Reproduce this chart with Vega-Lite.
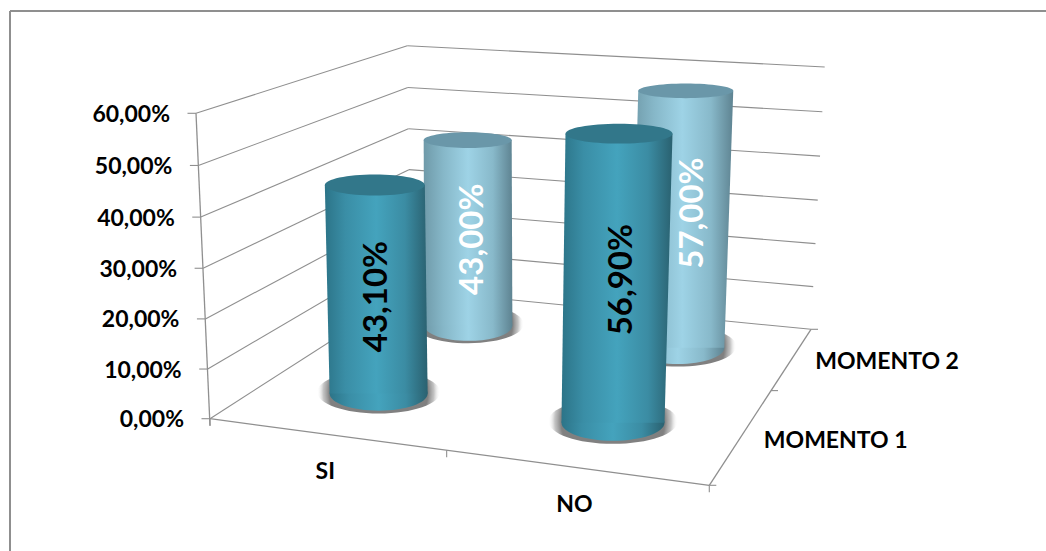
{
  "$schema": "https://vega.github.io/schema/vega-lite/v6.json",
  "width": 1036.5,
  "height": 540.5,
  "padding": {"left": 9.5, "top": 10.5, "right": 0, "bottom": 0},
  "autosize": "none",
  "background": "white",
  "config": {
    "view": {"stroke": null},
    "text": {"font": "Lato", "fontWeight": "bold"},
    "axis": {"domain": false, "labels": false, "ticks": false, "grid": false, "title": null}
  },
  "resolve": {"axis": {"x": "independent", "y": "independent"}},
  "params": [
    {"name": "sueloX", "value": [[210, 709.3], [410.5, 811]]},
    {"name": "sueloY", "value": [[418.7, 485.3], [290, 329.3]]},
    {"name": "techoX", "value": [[196, 721.5], [407.3, 824.7]]},
    {"name": "techoY", "value": [[113.3, 152], [45.7, 67]]}
  ],
  "data": {
    "values": [
      {"tipo": "cilindro", "respuesta": "SI", "momento": "MOMENTO 2", "valor": 43.0},
      {"tipo": "cilindro", "respuesta": "NO", "momento": "MOMENTO 2", "valor": 57.0},
      {"tipo": "cilindro", "respuesta": "SI", "momento": "MOMENTO 1", "valor": 43.1},
      {"tipo": "cilindro", "respuesta": "NO", "momento": "MOMENTO 1", "valor": 56.9},
      {"tipo": "rejilla", "valor": 0},
      {"tipo": "rejilla", "valor": 10},
      {"tipo": "rejilla", "valor": 20},
      {"tipo": "rejilla", "valor": 30},
      {"tipo": "rejilla", "valor": 40},
      {"tipo": "rejilla", "valor": 50},
      {"tipo": "rejilla", "valor": 60},
      {"tipo": "categoria", "respuesta": "SI"},
      {"tipo": "categoria", "respuesta": "NO"},
      {"tipo": "serie", "momento": "MOMENTO 1"},
      {"tipo": "serie", "momento": "MOMENTO 2"}
    ]
  },
  "transform": [
    {"calculate": "datum.respuesta === 'SI' ? 0.231 : datum.respuesta === 'NO' ? 0.73 : 0", "as": "a"},
    {"calculate": "datum.momento === 'MOMENTO 1' ? 0.30 : datum.momento === 'MOMENTO 2' ? 0.805 : 0", "as": "d"},
    {"calculate": "(datum.valor || 0) / 60", "as": "f"},
    {"calculate": "datum.f / (1 + 0.03 * (1 - datum.f))", "as": "t"},
    {"calculate": "lerp([lerp(sueloX[0], datum.a), lerp(sueloX[1], datum.a)], datum.d)", "as": "bx"},
    {"calculate": "lerp([lerp(sueloY[0], datum.a), lerp(sueloY[1], datum.a)], datum.d)", "as": "by"},
    {"calculate": "lerp([lerp(techoX[0], datum.a), lerp(techoX[1], datum.a)], datum.d)", "as": "hx"},
    {"calculate": "lerp([lerp(techoY[0], datum.a), lerp(techoY[1], datum.a)], datum.d)", "as": "hy"},
    {"calculate": "lerp([datum.bx, datum.hx], datum.t)", "as": "tx"},
    {"calculate": "lerp([datum.by, datum.hy], datum.t)", "as": "ty"},
    {"calculate": "datum.by - 1.5", "as": "sy"},
    {"calculate": "datum.momento === 'MOMENTO 1' ? 1 : 0", "as": "cerca"},
    {"calculate": "datum.respuesta === 'NO' ? 1 : 0", "as": "dcha"},
    {"calculate": "44 + 5 * datum.cerca + 2.5 * datum.dcha", "as": "rBase"},
    {"calculate": "44 + 6 * datum.cerca + 3.5 * datum.dcha", "as": "rTapa"},
    {"calculate": "'M-1,0A1,0.35 0 1 0 1,0A1,0.35 0 1 0 -1,0Z'", "as": "formaBase"},
    {"calculate": "'M-1,0A1,' + (0.18 + 0.03 * datum.cerca - 0.025 * datum.dcha) + ' 0 1 0 1,0A1,' + (0.18 + 0.03 * datum.cerca - 0.025 * datum.dcha) + ' 0 1 0 -1,0Z'", "as": "formaTapa"},
    {"calculate": "4 * datum.rBase * datum.rBase", "as": "areaBase"},
    {"calculate": "4 * datum.rTapa * datum.rTapa", "as": "areaTapa"},
    {"calculate": "6.3 * datum.rBase * datum.rBase", "as": "areaSombra"},
    {"calculate": "replace(format(datum.valor, '.2f'), '.', ',') + '%'", "as": "etiqueta"},
    {"calculate": "datum.respuesta === 'SI' ? 0.465 : (datum.cerca ? 0.495 : 0.524)", "as": "medio"},
    {"calculate": "lerp([datum.bx, datum.tx], datum.medio) + (datum.cerca ? 0 : 5) + 6 * datum.dcha", "as": "ex"},
    {"calculate": "lerp([datum.by, datum.ty], datum.medio)", "as": "ey"}
  ],
  "encoding": {
    "x": {"field": "tx", "type": "quantitative", "scale": {"domain": [9.5, 1046], "nice": false, "zero": false}},
    "y": {"field": "ty", "type": "quantitative", "scale": {"domain": [551, 10.5], "nice": false, "zero": false}}
  },
  "layer": [
    {
      "name": "marco",
      "transform": [{"filter": "datum.tipo === 'serie'"}],
      "mark": {"type": "rule", "opacity": 0},
      "encoding": {
        "x": {"field": "tx", "type": "quantitative", "scale": {"domain": [9.5, 1046], "nice": false, "zero": false}, "axis": {"orient": "top", "domain": true, "domainColor": "#8f8f8f", "domainWidth": 2}},
        "y": {"field": "ty", "type": "quantitative", "scale": {"domain": [551, 10.5], "nice": false, "zero": false}, "axis": {"orient": "left", "domain": true, "domainColor": "#8f8f8f", "domainWidth": 2}}
      }
    },
    {
      "name": "pared izquierda",
      "transform": [
        {"filter": "datum.tipo === 'rejilla'"},
        {"calculate": "lerp([sueloX[0][0], techoX[0][0]], datum.t)", "as": "x1"},
        {"calculate": "lerp([sueloY[0][0], techoY[0][0]], datum.t)", "as": "y1"},
        {"calculate": "lerp([sueloX[1][0], techoX[1][0]], datum.t)", "as": "x2"},
        {"calculate": "lerp([sueloY[1][0], techoY[1][0]], datum.t)", "as": "y2"}
      ],
      "mark": {"type": "rule", "color": "#8f8f8f", "strokeWidth": 1.1},
      "encoding": {
        "x": {"field": "x1", "type": "quantitative"},
        "y": {"field": "y1", "type": "quantitative"},
        "x2": {"field": "x2"},
        "y2": {"field": "y2"}
      }
    },
    {
      "name": "pared del fondo",
      "transform": [
        {"filter": "datum.tipo === 'rejilla'"},
        {"calculate": "lerp([sueloX[1][0], techoX[1][0]], datum.t)", "as": "x1"},
        {"calculate": "lerp([sueloY[1][0], techoY[1][0]], datum.t)", "as": "y1"},
        {"calculate": "lerp([sueloX[1][1], techoX[1][1]], datum.t)", "as": "x2"},
        {"calculate": "lerp([sueloY[1][1], techoY[1][1]], datum.t)", "as": "y2"}
      ],
      "mark": {"type": "rule", "color": "#8f8f8f", "strokeWidth": 1.1},
      "encoding": {
        "x": {"field": "x1", "type": "quantitative"},
        "y": {"field": "y1", "type": "quantitative"},
        "x2": {"field": "x2"},
        "y2": {"field": "y2"}
      }
    },
    {
      "name": "marcas del eje de valores",
      "transform": [
        {"filter": "datum.tipo === 'rejilla'"},
        {"calculate": "lerp([sueloX[0][0], techoX[0][0]], datum.t)", "as": "x1"},
        {"calculate": "lerp([sueloY[0][0], techoY[0][0]], datum.t)", "as": "y1"},
        {"calculate": "datum.x1 - 8.5", "as": "x2"}
      ],
      "mark": {"type": "rule", "color": "#8f8f8f", "strokeWidth": 1.1},
      "encoding": {
        "x": {"field": "x1", "type": "quantitative"},
        "y": {"field": "y1", "type": "quantitative"},
        "x2": {"field": "x2"}
      }
    },
    {
      "name": "eje de valores",
      "transform": [
        {"filter": "datum.tipo === 'rejilla' && datum.valor === 60"},
        {"calculate": "techoX[0][0]", "as": "x1"},
        {"calculate": "techoY[0][0]", "as": "y1"},
        {"calculate": "sueloX[0][0]", "as": "x2"},
        {"calculate": "sueloY[0][0] + 7", "as": "y2"}
      ],
      "mark": {"type": "rule", "color": "#8f8f8f", "strokeWidth": 1.3},
      "encoding": {
        "x": {"field": "x1", "type": "quantitative"},
        "y": {"field": "y1", "type": "quantitative"},
        "x2": {"field": "x2"},
        "y2": {"field": "y2"}
      }
    },
    {
      "name": "borde frontal del suelo",
      "transform": [
        {"filter": "datum.tipo === 'rejilla' && datum.valor === 0"},
        {"calculate": "sueloX[0][0]", "as": "x1"},
        {"calculate": "sueloY[0][0]", "as": "y1"},
        {"calculate": "sueloX[0][1]", "as": "x2"},
        {"calculate": "sueloY[0][1]", "as": "y2"}
      ],
      "mark": {"type": "rule", "color": "#8f8f8f", "strokeWidth": 1.3},
      "encoding": {
        "x": {"field": "x1", "type": "quantitative"},
        "y": {"field": "y1", "type": "quantitative"},
        "x2": {"field": "x2"},
        "y2": {"field": "y2"}
      }
    },
    {
      "name": "borde lateral del suelo",
      "transform": [
        {"filter": "datum.tipo === 'rejilla' && datum.valor === 0"},
        {"calculate": "sueloX[0][1]", "as": "x1"},
        {"calculate": "sueloY[0][1]", "as": "y1"},
        {"calculate": "sueloX[1][1]", "as": "x2"},
        {"calculate": "sueloY[1][1]", "as": "y2"}
      ],
      "mark": {"type": "rule", "color": "#8f8f8f", "strokeWidth": 1.3},
      "encoding": {
        "x": {"field": "x1", "type": "quantitative"},
        "y": {"field": "y1", "type": "quantitative"},
        "x2": {"field": "x2"},
        "y2": {"field": "y2"}
      }
    },
    {
      "name": "marcas entre categorias",
      "transform": [
        {"filter": "datum.tipo === 'rejilla' && datum.valor === 0"},
        {"fold": ["i0", "i1", "i2"], "as": ["marca", "sin_uso"]},
        {"calculate": "datum.marca === 'i0' ? 0.474 : datum.marca === 'i1' ? 1 : 0", "as": "p"},
        {"calculate": "lerp(sueloX[0], datum.p)", "as": "x1"},
        {"calculate": "lerp(sueloY[0], datum.p)", "as": "y1"},
        {"calculate": "datum.y1 + 7", "as": "y2"}
      ],
      "mark": {"type": "rule", "color": "#8f8f8f", "strokeWidth": 1.1},
      "encoding": {
        "x": {"field": "x1", "type": "quantitative"},
        "y": {"field": "y1", "type": "quantitative"},
        "y2": {"field": "y2"}
      }
    },
    {
      "name": "marcas entre series",
      "transform": [
        {"filter": "datum.tipo === 'rejilla' && datum.valor === 0"},
        {"fold": ["i0", "i1", "i2"], "as": ["marca", "sin_uso"]},
        {"calculate": "datum.marca === 'i0' ? 0.607 : datum.marca === 'i1' ? 1 : 0", "as": "p"},
        {"calculate": "lerp([sueloX[0][1], sueloX[1][1]], datum.p)", "as": "x1"},
        {"calculate": "lerp([sueloY[0][1], sueloY[1][1]], datum.p)", "as": "y1"},
        {"calculate": "datum.x1 + 7", "as": "x2"}
      ],
      "mark": {"type": "rule", "color": "#8f8f8f", "strokeWidth": 1.1},
      "encoding": {
        "x": {"field": "x1", "type": "quantitative"},
        "y": {"field": "y1", "type": "quantitative"},
        "x2": {"field": "x2"}
      }
    },
    {
      "name": "sombras traseras",
      "transform": [{"filter": "datum.tipo === 'cilindro' && datum.momento === 'MOMENTO 2'"}],
      "mark": {
        "type": "point", "filled": true, "opacity": 1, "strokeWidth": 0,
        "fill": {"gradient": "radial", "x1": 0.5, "y1": 0.5, "r1": 0, "x2": 0.5, "y2": 0.5, "r2": 0.5,
          "stops": [{"offset": 0, "color": "#808080"}, {"offset": 0.8, "color": "#808080"}, {"offset": 0.9, "color": "rgba(170,170,170,0.7)"}, {"offset": 1, "color": "rgba(255,255,255,0)"}]}
      },
      "encoding": {
        "x": {"field": "bx", "type": "quantitative"},
        "y": {"field": "sy", "type": "quantitative"},
        "size": {"field": "areaSombra", "type": "quantitative", "scale": null},
        "shape": {"field": "formaBase", "type": "nominal", "scale": null}
      }
    },
    {
      "name": "base serie 2",
      "transform": [{"filter": "datum.tipo === 'cilindro' && datum.momento === 'MOMENTO 2'"}],
      "mark": {
        "type": "point", "filled": true, "opacity": 1, "strokeWidth": 0,
        "fill": {"gradient": "linear", "x1": 0, "y1": 0, "x2": 1, "y2": 0,
          "stops": [{"offset": 0, "color": "#6f9aa9"}, {"offset": 0.22, "color": "#86b7c8"}, {"offset": 0.5, "color": "#9ed3e6"}, {"offset": 0.78, "color": "#88b9ca"}, {"offset": 1, "color": "#5e8391"}]}
      },
      "encoding": {
        "x": {"field": "bx", "type": "quantitative"},
        "y": {"field": "by", "type": "quantitative"},
        "size": {"field": "areaBase", "type": "quantitative", "scale": null},
        "shape": {"field": "formaBase", "type": "nominal", "scale": null}
      }
    },
    {
      "name": "fuste serie 2",
      "transform": [
        {"filter": "datum.tipo === 'cilindro' && datum.momento === 'MOMENTO 2'"},
        {"fold": ["by", "ty"], "as": ["extremo", "yf"]},
        {"calculate": "datum.extremo === 'by' ? datum.bx - datum.rBase : datum.tx - datum.rTapa", "as": "izq"},
        {"calculate": "datum.extremo === 'by' ? datum.bx + datum.rBase : datum.tx + datum.rTapa", "as": "der"}
      ],
      "mark": {
        "type": "area", "orient": "horizontal",
        "fill": {"gradient": "linear", "x1": 0, "y1": 0, "x2": 1, "y2": 0,
          "stops": [{"offset": 0, "color": "#6f9aa9"}, {"offset": 0.22, "color": "#86b7c8"}, {"offset": 0.5, "color": "#9ed3e6"}, {"offset": 0.78, "color": "#88b9ca"}, {"offset": 1, "color": "#5e8391"}]}
      },
      "encoding": {
        "y": {"field": "yf", "type": "quantitative"},
        "x": {"field": "izq", "type": "quantitative"},
        "x2": {"field": "der"},
        "detail": {"field": "respuesta", "type": "nominal"}
      }
    },
    {
      "name": "tapa serie 2",
      "transform": [{"filter": "datum.tipo === 'cilindro' && datum.momento === 'MOMENTO 2'"}],
      "mark": {"type": "point", "filled": true, "opacity": 1, "strokeWidth": 0, "fill": "#6a97a9"},
      "encoding": {
        "size": {"field": "areaTapa", "type": "quantitative", "scale": null},
        "shape": {"field": "formaTapa", "type": "nominal", "scale": null}
      }
    },
    {
      "name": "sombras delanteras",
      "transform": [{"filter": "datum.tipo === 'cilindro' && datum.momento === 'MOMENTO 1'"}],
      "mark": {
        "type": "point", "filled": true, "opacity": 1, "strokeWidth": 0,
        "fill": {"gradient": "radial", "x1": 0.5, "y1": 0.5, "r1": 0, "x2": 0.5, "y2": 0.5, "r2": 0.5,
          "stops": [{"offset": 0, "color": "#808080"}, {"offset": 0.8, "color": "#808080"}, {"offset": 0.9, "color": "rgba(170,170,170,0.7)"}, {"offset": 1, "color": "rgba(255,255,255,0)"}]}
      },
      "encoding": {
        "x": {"field": "bx", "type": "quantitative"},
        "y": {"field": "sy", "type": "quantitative"},
        "size": {"field": "areaSombra", "type": "quantitative", "scale": null},
        "shape": {"field": "formaBase", "type": "nominal", "scale": null}
      }
    },
    {
      "name": "base serie 1",
      "transform": [{"filter": "datum.tipo === 'cilindro' && datum.momento === 'MOMENTO 1'"}],
      "mark": {
        "type": "point", "filled": true, "opacity": 1, "strokeWidth": 0,
        "fill": {"gradient": "linear", "x1": 0, "y1": 0, "x2": 1, "y2": 0,
          "stops": [{"offset": 0, "color": "#2c7488"}, {"offset": 0.2, "color": "#3a8ea6"}, {"offset": 0.5, "color": "#44a3bd"}, {"offset": 0.78, "color": "#3b8ca3"}, {"offset": 1, "color": "#2a6170"}]}
      },
      "encoding": {
        "x": {"field": "bx", "type": "quantitative"},
        "y": {"field": "by", "type": "quantitative"},
        "size": {"field": "areaBase", "type": "quantitative", "scale": null},
        "shape": {"field": "formaBase", "type": "nominal", "scale": null}
      }
    },
    {
      "name": "fuste serie 1",
      "transform": [
        {"filter": "datum.tipo === 'cilindro' && datum.momento === 'MOMENTO 1'"},
        {"fold": ["by", "ty"], "as": ["extremo", "yf"]},
        {"calculate": "datum.extremo === 'by' ? datum.bx - datum.rBase : datum.tx - datum.rTapa", "as": "izq"},
        {"calculate": "datum.extremo === 'by' ? datum.bx + datum.rBase : datum.tx + datum.rTapa", "as": "der"}
      ],
      "mark": {
        "type": "area", "orient": "horizontal",
        "fill": {"gradient": "linear", "x1": 0, "y1": 0, "x2": 1, "y2": 0,
          "stops": [{"offset": 0, "color": "#2c7488"}, {"offset": 0.2, "color": "#3a8ea6"}, {"offset": 0.5, "color": "#44a3bd"}, {"offset": 0.78, "color": "#3b8ca3"}, {"offset": 1, "color": "#2a6170"}]}
      },
      "encoding": {
        "y": {"field": "yf", "type": "quantitative"},
        "x": {"field": "izq", "type": "quantitative"},
        "x2": {"field": "der"},
        "detail": {"field": "respuesta", "type": "nominal"}
      }
    },
    {
      "name": "tapa serie 1",
      "transform": [{"filter": "datum.tipo === 'cilindro' && datum.momento === 'MOMENTO 1'"}],
      "mark": {"type": "point", "filled": true, "opacity": 1, "strokeWidth": 0, "fill": "#32778a"},
      "encoding": {
        "size": {"field": "areaTapa", "type": "quantitative", "scale": null},
        "shape": {"field": "formaTapa", "type": "nominal", "scale": null}
      }
    },
    {
      "name": "etiquetas de datos",
      "transform": [{"filter": "datum.tipo === 'cilindro'"}],
      "mark": {"type": "text", "angle": 270, "fontSize": 33, "align": "center", "baseline": "middle"},
      "encoding": {
        "x": {"field": "ex", "type": "quantitative"},
        "y": {"field": "ey", "type": "quantitative"},
        "text": {"field": "etiqueta", "type": "nominal"},
        "color": {"field": "momento", "type": "nominal", "scale": {"domain": ["MOMENTO 1", "MOMENTO 2"], "range": ["#000000", "#ffffff"]}, "legend": null}
      }
    },
    {
      "name": "rotulos del eje de valores",
      "transform": [
        {"filter": "datum.tipo === 'rejilla'"},
        {"calculate": "replace(format(datum.valor, '.2f'), '.', ',') + '%'", "as": "rotulo"},
        {"calculate": "lerp([sueloX[0][0], techoX[0][0]], datum.t) - 26", "as": "x1"},
        {"calculate": "lerp([sueloY[0][0], techoY[0][0]], datum.t) + 1.5", "as": "y1"}
      ],
      "mark": {"type": "text", "fontSize": 23, "align": "right", "baseline": "middle", "color": "#000000"},
      "encoding": {
        "x": {"field": "x1", "type": "quantitative"},
        "y": {"field": "y1", "type": "quantitative"},
        "text": {"field": "rotulo", "type": "nominal"}
      }
    },
    {
      "name": "rotulos de categoria",
      "transform": [
        {"filter": "datum.tipo === 'categoria'"},
        {"calculate": "datum.by + 37.5", "as": "y1"}
      ],
      "mark": {"type": "text", "fontSize": 23, "align": "center", "baseline": "middle", "color": "#000000"},
      "encoding": {
        "x": {"field": "bx", "type": "quantitative"},
        "y": {"field": "y1", "type": "quantitative"},
        "text": {"field": "respuesta", "type": "nominal"}
      }
    },
    {
      "name": "rotulos de serie",
      "transform": [
        {"filter": "datum.tipo === 'serie'"},
        {"calculate": "lerp([sueloX[0][1], sueloX[1][1]], datum.d) + 24", "as": "x1"},
        {"calculate": "lerp([sueloY[0][1], sueloY[1][1]], datum.d) + 2", "as": "y1"}
      ],
      "mark": {"type": "text", "fontSize": 23, "align": "left", "baseline": "middle", "color": "#000000"},
      "encoding": {
        "x": {"field": "x1", "type": "quantitative"},
        "y": {"field": "y1", "type": "quantitative"},
        "text": {"field": "momento", "type": "nominal"}
      }
    }
  ]
}
